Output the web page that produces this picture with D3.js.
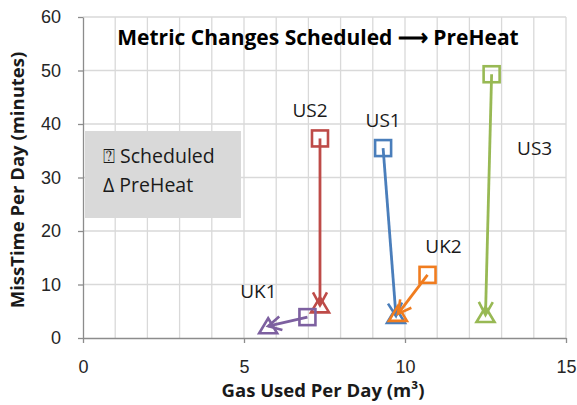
<!DOCTYPE html>
<html>
<head>
<meta charset="utf-8">
<script src="https://cdn.jsdelivr.net/npm/d3@7/dist/d3.min.js"></script>
<style>
  body { margin: 0; background: #fff; }
  svg { font-family: 'Open Sans', sans-serif; }
  .grid line { stroke: #d9d9d9; stroke-width: 1.3; }
  .axis path, .axis line { stroke: #8c8c8c; stroke-width: 1.3; }
  .axis text { font-size: 18px; fill: #262626; }
</style>
</head>
<body>
<svg id="chart" width="577" height="405"></svg>
<script>
const SERIES = ['US1', 'US2', 'US3', 'UK1', 'UK2'];
const SCHED_X = [9.32, 7.36, 12.69, 6.97, 10.7];
const SCHED_Y = [35.5, 37.3, 49.3, 3.9, 11.8];
const PRE_X = [9.72, 7.36, 12.5, 5.75, 9.78];
const PRE_Y = [4.1, 6.1, 4.3, 2.2, 4.5];
const X_TICKS = [0, 5, 10, 15];
const Y_TICKS = [0, 10, 20, 30, 40, 50, 60];

const COLORS = {
  US1: '#4a7ebb',
  US2: '#be4b48',
  US3: '#98b954',
  UK1: '#7d60a0',
  UK2: '#f07c1f'
};
// label offset from the Scheduled point, px
const LABEL_OFF = {
  US1: [0, -21],
  US2: [-10, -21],
  US3: [43, 81],
  UK1: [-49, -19],
  UK2: [16, -22]
};

const data = SERIES.map((id, i) => ({
  id,
  sx: SCHED_X[i],
  sy: SCHED_Y[i],
  px: PRE_X[i],
  py: PRE_Y[i]
}));

const margin = { top: 17, right: 11, bottom: 67, left: 83 };
const $svg = d3.select('#chart');
const width = 577 - margin.left - margin.right;
const height = 405 - margin.top - margin.bottom;

const x = d3.scaleLinear().domain([0, 15]).range([0, width]);
const y = d3.scaleLinear().domain([0, 60]).range([height, 0]);

const $g = $svg.append('g').attr('transform', `translate(${margin.left},${margin.top})`);

// gridlines
const $grid = $g.append('g').attr('class', 'grid');
$grid.selectAll('line.v')
  .data(d3.range(1, 16))
  .join('line')
  .attr('class', 'v')
  .attr('x1', d => x(d)).attr('x2', d => x(d))
  .attr('y1', 0).attr('y2', height);
$grid.selectAll('line.h')
  .data(Y_TICKS.slice(1))
  .join('line')
  .attr('class', 'h')
  .attr('x1', 0).attr('x2', width)
  .attr('y1', d => y(d)).attr('y2', d => y(d));

// axes
$g.append('g')
  .attr('class', 'axis')
  .attr('transform', `translate(0,${height})`)
  .call(d3.axisBottom(x).tickValues(X_TICKS).tickSize(5).tickSizeOuter(0).tickPadding(8))
  .call(s => s.selectAll('text').attr('dy', '1.2em'));
$g.append('g')
  .attr('class', 'axis')
  .call(d3.axisLeft(y).tickValues(Y_TICKS).tickSize(5).tickSizeOuter(0).tickPadding(17));

// legend box
$g.append('rect')
  .attr('x', 2).attr('y', 114)
  .attr('width', 156).attr('height', 87)
  .attr('fill', '#d9d9d9');
$g.append('text')
  .attr('x', 20).attr('y', 146)
  .attr('font-size', 19.5).attr('fill', '#1a1a1a')
  .text('\u2370 Scheduled');
$g.append('text')
  .attr('x', 20).attr('y', 175)
  .attr('font-size', 19.5).attr('fill', '#1a1a1a')
  .text('\u0394 PreHeat');

// arrow markers
const $defs = $svg.append('defs');
SERIES.forEach(id => {
  $defs.append('marker')
    .attr('id', `arrow-${id}`)
    .attr('markerUnits', 'userSpaceOnUse')
    .attr('viewBox', '-16 -10 20 20')
    .attr('refX', 0).attr('refY', 0)
    .attr('markerWidth', 20).attr('markerHeight', 20)
    .attr('orient', 'auto')
    .append('path')
    .attr('d', 'M-13,-7L0,0L-13,7')
    .attr('fill', 'none')
    .attr('stroke', COLORS[id])
    .attr('stroke-width', 2.6);
});

const $series = $g.selectAll('g.series')
  .data(data)
  .join('g')
  .attr('class', 'series');

$series.append('line')
  .attr('x1', d => x(d.sx)).attr('y1', d => y(d.sy))
  .attr('x2', d => x(d.px)).attr('y2', d => y(d.py))
  .attr('stroke', d => COLORS[d.id])
  .attr('stroke-width', 2.8)
  .attr('marker-end', d => `url(#arrow-${d.id})`);

$series.append('rect')
  .attr('x', d => x(d.sx) - 8).attr('y', d => y(d.sy) - 8)
  .attr('width', 16).attr('height', 16)
  .attr('fill', 'none')
  .attr('stroke', d => COLORS[d.id])
  .attr('stroke-width', 2.6);

$series.append('path')
  .attr('transform', d => `translate(${x(d.px)},${y(d.py)})`)
  .attr('d', 'M0,-8L9,7L-9,7Z')
  .attr('fill', 'none')
  .attr('stroke', d => COLORS[d.id])
  .attr('stroke-width', 2.6)
  .attr('stroke-linejoin', 'miter');

$series.append('text')
  .attr('x', d => x(d.sx) + LABEL_OFF[d.id][0])
  .attr('y', d => y(d.sy) + LABEL_OFF[d.id][1])
  .attr('text-anchor', 'middle')
  .attr('font-size', 19)
  .attr('fill', '#1a1a1a')
  .text(d => d.id);

// title
$g.append('text')
  .attr('x', 318 - margin.left).attr('y', 28)
  .attr('text-anchor', 'middle')
  .attr('font-size', 21).attr('font-weight', 'bold')
  .attr('fill', '#000')
  .text('Metric Changes Scheduled \u27f6 PreHeat');

// axis titles
$g.append('text')
  .attr('x', 323 - margin.left).attr('y', height + 59)
  .attr('text-anchor', 'middle')
  .attr('font-size', 18.5).attr('font-weight', 'bold')
  .attr('fill', '#1a1a1a')
  .text('Gas Used Per Day (m\u00b3)');
$g.append('text')
  .attr('transform', `translate(${-59},${180 - margin.top}) rotate(-90)`)
  .attr('text-anchor', 'middle')
  .attr('font-size', 18.5).attr('font-weight', 'bold')
  .attr('fill', '#1a1a1a')
  .text('MissTime Per Day (minutes)');
</script>
</body>
</html>
